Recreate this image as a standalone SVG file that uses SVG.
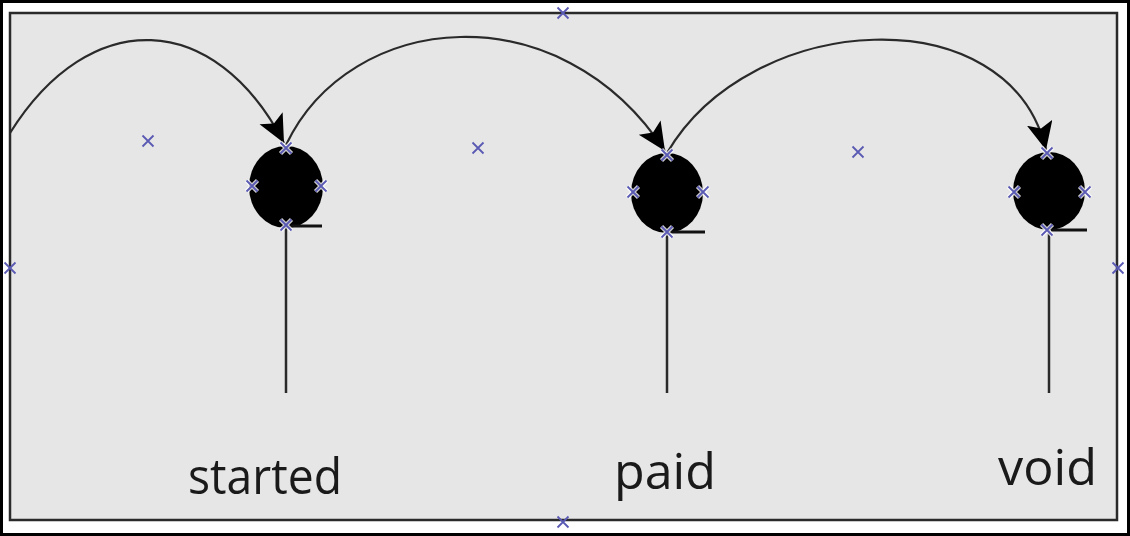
<svg xmlns="http://www.w3.org/2000/svg" width="1130" height="536" viewBox="0 0 1130 536">
<style>
.conn{fill:none;stroke:#2a2a2a;stroke-width:2.2}
.stem{stroke:#2a2a2a;stroke-width:2.5}
.tail{stroke:#111;stroke-width:3}
.state{fill:#000}
.mk{stroke:#5a5ab4;stroke-width:1.8;fill:none}
.mkh{stroke:#ffffff;stroke-width:4.5;fill:none;opacity:0.8}
.lbl{font-family:"Open Sans","DejaVu Sans",sans-serif;font-size:50px;font-weight:500;fill:#1a1a1a}
</style>
<defs>
<marker id="arr" markerWidth="30" markerHeight="28" refX="28" refY="13" orient="auto" markerUnits="userSpaceOnUse">
<path d="M0,0 L28,13 L0,26 L6,13 Z" fill="#000"/>
</marker>
<path id="x" d="M-5.5,-5.5 L5.5,5.5 M-5.5,5.5 L5.5,-5.5"/>
</defs>
<rect x="1.5" y="1.5" width="1127" height="533" fill="#ffffff" stroke="#000" stroke-width="3"/>
<rect x="10" y="13" width="1107" height="507" fill="#e6e6e6" stroke="#2a2a2a" stroke-width="2.5"/>
<g id="connectors">
<path class="conn" d="M10,133 C90,5 215,10 284,143" marker-end="url(#arr)"/>
<path class="conn" d="M286,145 C350,10 560,-10 665,151" marker-end="url(#arr)"/>
<path class="conn" d="M667,153 C750,10 1010,-5 1046,150" marker-end="url(#arr)"/>
<line class="stem" x1="286" y1="226" x2="286" y2="393"/>
<line class="stem" x1="667" y1="232" x2="667" y2="393"/>
<line class="stem" x1="1049" y1="230" x2="1049" y2="393"/>
</g>
<g id="node-started">
<ellipse class="state" cx="286" cy="187" rx="37" ry="41"/>
<line class="tail" x1="288" y1="226" x2="322" y2="226"/>
<text class="lbl" x="188" y="494" textLength="154" lengthAdjust="spacingAndGlyphs">started</text>
</g>
<g id="node-paid">
<ellipse class="state" cx="667" cy="193" rx="36" ry="40"/>
<line class="tail" x1="669" y1="232" x2="705" y2="232"/>
<text class="lbl" x="614" y="489" textLength="102" lengthAdjust="spacingAndGlyphs">paid</text>
</g>
<g id="node-void">
<ellipse class="state" cx="1049" cy="191" rx="36" ry="39"/>
<line class="tail" x1="1051" y1="230" x2="1087" y2="230"/>
<text class="lbl" x="998" y="485" textLength="99" lengthAdjust="spacingAndGlyphs">void</text>
</g>
<g id="handles">
<g class="mkh">
<use href="#x" x="286" y="148"/><use href="#x" x="252" y="186"/><use href="#x" x="321" y="186"/><use href="#x" x="286" y="225"/>
<use href="#x" x="667" y="155"/><use href="#x" x="633" y="192"/><use href="#x" x="703" y="192"/><use href="#x" x="667" y="232"/>
<use href="#x" x="1047" y="153"/><use href="#x" x="1014" y="192"/><use href="#x" x="1085" y="192"/><use href="#x" x="1047" y="230"/>
</g>
<g class="mk">
<use href="#x" x="286" y="148"/><use href="#x" x="252" y="186"/><use href="#x" x="321" y="186"/><use href="#x" x="286" y="225"/>
<use href="#x" x="667" y="155"/><use href="#x" x="633" y="192"/><use href="#x" x="703" y="192"/><use href="#x" x="667" y="232"/>
<use href="#x" x="1047" y="153"/><use href="#x" x="1014" y="192"/><use href="#x" x="1085" y="192"/><use href="#x" x="1047" y="230"/>
<use href="#x" x="563" y="13"/><use href="#x" x="563" y="522"/><use href="#x" x="10" y="268"/><use href="#x" x="1118" y="268"/>
<use href="#x" x="148" y="141"/><use href="#x" x="478" y="148"/><use href="#x" x="858" y="152"/>
</g>
</g>
</svg>
